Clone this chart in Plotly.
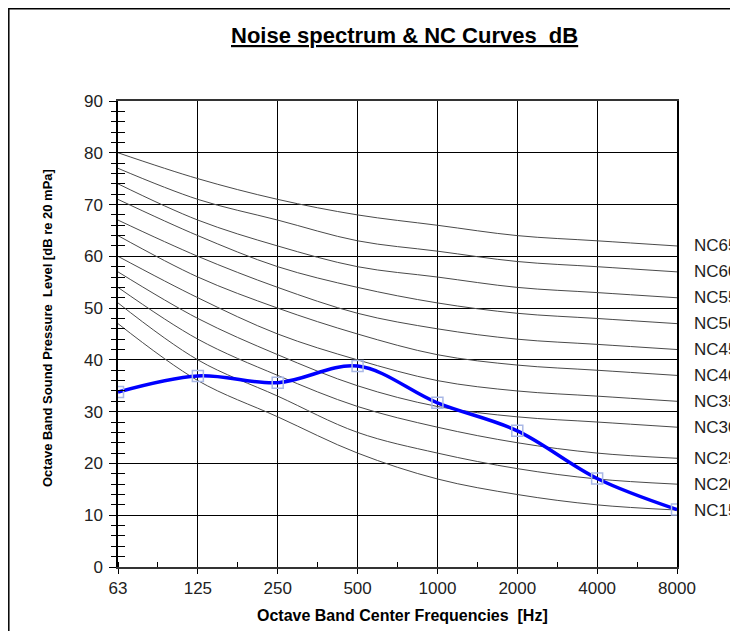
import plotly.graph_objects as go

freqs = ["63", "125", "250", "500", "1000", "2000", "4000", "8000"]
nc_names = ["NC15", "NC20", "NC25", "NC30", "NC35", "NC40", "NC45", "NC50", "NC55", "NC60", "NC65"]
nc15 = [47, 36, 29, 22, 17, 14, 12, 11]
nc20 = [51, 40, 33, 26, 22, 19, 17, 16]
nc25 = [54, 44, 37, 31, 27, 24, 22, 21]
nc30 = [57, 48, 41, 35, 31, 29, 28, 27]
nc35 = [60, 52, 45, 40, 36, 34, 33, 32]
nc40 = [64, 56, 50, 45, 41, 39, 38, 37]
nc45 = [67, 60, 54, 49, 46, 44, 43, 42]
nc50 = [71, 64, 58, 54, 51, 49, 48, 47]
nc55 = [74, 67, 62, 58, 56, 54, 53, 52]
nc60 = [77, 71, 67, 63, 61, 59, 58, 57]
nc65 = [80, 75, 71, 68, 66, 64, 63, 62]
spectrum = [33.8, 36.9, 35.6, 38.8, 31.7, 26.3, 17.1, 11.1]

nc_curves = [nc15, nc20, nc25, nc30, nc35, nc40, nc45, nc50, nc55, nc60, nc65]
xpos = list(range(len(freqs)))

# page body has an 8px margin; compensate so the screenshot matches
OFF = 8
W, H = 738 - OFF, 631 - OFF
L, T = 118 - OFF, 101 - OFF
pw, ph = 559, 466
R = W - L - pw
B = H - T - ph


def px_x(sx):
    return (sx - OFF - L) / pw


def px_y(sy):
    return (T + ph - (sy - OFF)) / ph


fig = go.Figure()
for name, vals in zip(nc_names, nc_curves):
    fig.add_trace(go.Scatter(x=xpos, y=vals, mode="lines", name=name,
                             line=dict(color="#4a4a4a", width=1, shape="spline"),
                             showlegend=False, hoverinfo="skip"))
    fig.add_annotation(x=xpos[-1], y=vals[-1], xref="x", yref="y", text=name,
                       showarrow=False, xanchor="left", yanchor="middle", xshift=15,
                       font=dict(family="Liberation Sans, Arial", size=17, color="#222"))

fig.add_trace(go.Scatter(x=xpos, y=spectrum, mode="lines+markers", name="Spectrum",
                         line=dict(color="#0000ff", width=3.5, shape="spline"),
                         marker=dict(symbol="square-open", size=11,
                                     color="#a9b8e6", line=dict(width=1.5, color="#a9b8e6")),
                         showlegend=False))

# dummy trace for second y axis (inside ticks, giving crossing ticks)
fig.add_trace(go.Scatter(x=[xpos[0]], y=[0], yaxis="y2", mode="markers",
                         marker=dict(opacity=0), showlegend=False, hoverinfo="skip"))

font_main = "Liberation Sans, Arial"
fig.update_layout(
    width=W, height=H,
    margin=dict(l=L, r=R, t=T, b=B),
    paper_bgcolor="white", plot_bgcolor="white",
    xaxis=dict(range=[0, 7], tickvals=xpos, ticktext=freqs,
               showgrid=True, gridcolor="black", gridwidth=1,
               showline=True, linecolor="#333", linewidth=2, mirror=True,
               ticks="outside", ticklen=5, tickcolor="black",
               minor=dict(dtick=0.5, ticks="inside", ticklen=5, tickcolor="black", showgrid=False),
               tickfont=dict(family=font_main, size=17, color="#222"),
               zeroline=False),
    yaxis=dict(range=[0, 90], dtick=10, showgrid=True, gridcolor="black", gridwidth=1,
               showline=True, linecolor="black", linewidth=1.5, mirror=True,
               ticks="outside", ticklen=7, tickcolor="black",
               minor=dict(dtick=2, ticks="outside", ticklen=5, tickcolor="black", showgrid=False),
               tickfont=dict(family=font_main, size=17, color="#222"),
               ticklabelstandoff=3,
               zeroline=False),
    yaxis2=dict(range=[0, 90], dtick=10, overlaying="y", side="left", showgrid=False,
                ticks="inside", ticklen=7, tickcolor="black", showticklabels=False,
                minor=dict(dtick=2, ticks="inside", ticklen=7, tickcolor="black"),
                zeroline=False, showline=False),
    showlegend=False,
)

# title
fig.add_annotation(text="Noise spectrum & NC Curves  dB", xref="paper", yref="paper",
                   x=px_x(404), y=px_y(35), showarrow=False,
                   xanchor="center", yanchor="middle",
                   font=dict(family=font_main, size=22, color="black", weight="bold",
                             lineposition="under"))
# x title
fig.add_annotation(text="Octave Band Center Frequencies  [Hz]", xref="paper", yref="paper",
                   x=px_x(402), y=px_y(615), showarrow=False,
                   xanchor="center", yanchor="middle",
                   font=dict(family=font_main, size=16, color="black", weight="bold"))
# y title
fig.add_annotation(text="Octave Band Sound Pressure  Level [dB re 20 mPa]", xref="paper", yref="paper",
                   x=px_x(47), y=px_y(328), showarrow=False, textangle=-90,
                   xanchor="center", yanchor="middle",
                   font=dict(family=font_main, size=13, color="black", weight="bold"))

# outer frame
fig.add_shape(type="rect", xref="paper", yref="paper",
              x0=(0.8 - L) / pw, x1=(W + 20 - L) / pw,
              y0=-(B + 20) / ph, y1=(T + ph - 0.8) / ph,
              line=dict(color="black", width=1.5), fillcolor="rgba(0,0,0,0)", layer="below")

fig.write_html("out.html")
